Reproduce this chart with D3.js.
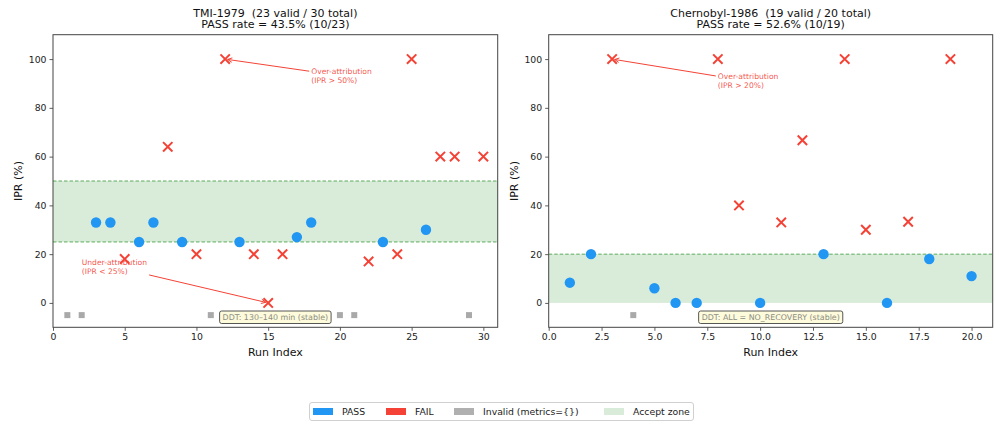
<!DOCTYPE html>
<html><head><meta charset="utf-8">
<script src="https://cdn.jsdelivr.net/npm/d3@7"></script>
<style>
body{margin:0;background:#fff;}
svg{display:block;font-family:"DejaVu Sans",sans-serif;}
text{white-space:pre;}
</style></head><body>
<svg id="c" width="994" height="424"></svg>
<script>
// ---------- data ----------
const tmiTitle = ["TMI-1979  (23 valid / 30 total)", "PASS rate = 43.5% (10/23)"];
const tmiPass = [[3,33],[4,33],[6,25],[7,33],[9,25],[13,25],[17,27],[18,33],[23,25],[26,30]];
const tmiFail = [[5,18],[8,64],[10,20],[12,100],[14,20],[15,0],[16,20],[22,17],[24,20],[25,100],[27,60],[28,60],[30,60]];
const tmiInvalid = [1,2,11,19,20,21,29];
const tmiZone = [25,50];
const tmiZoneLines = [25,50];
const tmiXTicks = [0,5,10,15,20,25,30];
const tmiDDT = "DDT: 130\u2013140 min (stable)";
const tmiNotes = [
  {text:["Over-attribution","(IPR > 50%)"], tx:18, ty:94, x:12, y:100},
  {text:["Under-attribution","(IPR < 25%)"], tx:2, ty:15.7, x:15, y:0}
];

const chTitle = ["Chernobyl-1986  (19 valid / 20 total)", "PASS rate = 52.6% (10/19)"];
const chPass = [[1,8.3],[2,20],[5,6],[6,0],[7,0],[10,0],[13,20],[16,0],[18,18],[20,11]];
const chFail = [[3,100],[8,100],[9,40],[11,33],[12,66.7],[14,100],[15,30],[17,33.3],[19,100]];
const chInvalid = [4];
const chZone = [0,20];
const chZoneLines = [20];
const chXTicks = [0,2.5,5,7.5,10,12.5,15,17.5,20];
const chDDT = "DDT: ALL = NO_RECOVERY (stable)";
const chNotes = [
  {text:["Over-attribution","(IPR > 20%)"], tx:8, ty:91.8, x:3, y:100}
];

const yTicks = [0,20,40,60,80,100];
const invalidY = -5;
const legendItems = [
  {label:"PASS", color:"#2196F3"},
  {label:"FAIL", color:"#F44336"},
  {label:"Invalid (metrics={})", color:"#b0b0b0"},
  {label:"Accept zone", color:"#d9ecd9"}
];

// ---------- styles ----------
const C = {pass:"#2196F3", fail:"#F44336", inv:"#a9a9a9", zone:"#d9ecd9", zoneLine:"#3a9a3a"};
const svg = d3.select("#c");

function panel(cfg){
  const {left, right, xmax, xTicks, xFmt} = cfg;
  const top = 34.7, bottom = 327.3;
  const x = d3.scaleLinear().domain([0,xmax]).range([left,right]);
  const y = d3.scaleLinear().domain([-10,110]).range([bottom,top]);
  const g = svg.append("g");
  const clipId = "clip"+Math.round(left);
  svg.append("clipPath").attr("id",clipId).append("rect")
    .attr("x",left).attr("y",top).attr("width",right-left).attr("height",bottom-top);
  const pg = g.append("g").attr("clip-path",`url(#${clipId})`);

  // zone
  pg.append("rect").attr("x",left).attr("width",right-left)
    .attr("y",y(cfg.zone[1])).attr("height",y(cfg.zone[0])-y(cfg.zone[1]))
    .attr("fill",C.zone);
  pg.selectAll("line.z").data(cfg.zoneLines).join("line")
    .attr("x1",left).attr("x2",right).attr("y1",d=>y(d)).attr("y2",d=>y(d))
    .attr("stroke",C.zoneLine).attr("stroke-opacity",0.8).attr("stroke-width",1)
    .attr("stroke-dasharray","3.5,2");

  // invalid
  pg.selectAll("rect.inv").data(cfg.invalid).join("rect")
    .attr("x",d=>x(d)-3).attr("y",y(invalidY)-3).attr("width",6).attr("height",6)
    .attr("fill",C.inv);

  // DDT box
  const bx = (left+right)/2, by = 317;
  const bt = g.append("text").attr("x",bx).attr("y",by+2.9).attr("text-anchor","middle")
    .attr("font-size",7.9).attr("fill","#8c8c80").text(cfg.ddt);
  const bb = bt.node().getBBox();
  g.insert("rect", () => bt.node()).attr("x",bb.x-3).attr("y",by-6).attr("width",bb.width+6).attr("height",12.5)
    .attr("rx",2).attr("fill","#fdfbdc").attr("stroke","#444").attr("stroke-width",0.9);

  // pass
  pg.selectAll("circle.p").data(cfg.pass).join("circle")
    .attr("cx",d=>x(d[0])).attr("cy",d=>y(d[1])).attr("r",5.2).attr("fill",C.pass);
  // fail
  const s = 4.7;
  pg.selectAll("path.f").data(cfg.fail).join("path")
    .attr("d",d=>{const cx=x(d[0]),cy=y(d[1]);return `M${cx-s},${cy-s}L${cx+s},${cy+s}M${cx-s},${cy+s}L${cx+s},${cy-s}`;})
    .attr("stroke",C.fail).attr("stroke-width",2).attr("fill","none");

  // annotations
  cfg.notes.forEach(n=>{
    const t = g.append("text").attr("font-size",7.6).attr("fill",C.fail).attr("fill-opacity",0.9);
    n.text.forEach((s,i)=>t.append("tspan").attr("x",x(n.tx)).attr("y",y(n.ty)+i*9.3).text(s));
    const b = t.node().getBBox();
    const cx = b.x+b.width/2, cy = b.y+b.height/2;
    const tx = x(n.x), ty = y(n.y);
    const dx = tx-cx, dy = ty-cy;
    const hw = b.width/2+2, hh = b.height/2+2;
    const k = Math.min(hw/Math.abs(dx||1e-9), hh/Math.abs(dy||1e-9));
    const sx = cx+dx*k, sy = cy+dy*k;
    const L = Math.hypot(tx-sx, ty-sy), ux=(tx-sx)/L, uy=(ty-sy)/L;
    const ex = tx-ux*2.5, ey = ty-uy*2.5;
    g.append("line").attr("x1",sx).attr("y1",sy).attr("x2",ex).attr("y2",ey)
      .attr("stroke",C.fail).attr("stroke-width",1);
    const hl=4.5, hwid=2.2;
    g.append("path").attr("d",`M${ex-ux*hl-uy*hwid},${ey-uy*hl+ux*hwid}L${ex},${ey}L${ex-ux*hl+uy*hwid},${ey-uy*hl-ux*hwid}`)
      .attr("stroke",C.fail).attr("stroke-width",1).attr("fill","none");
  });

  // axes
  const xa = g.append("g").attr("transform",`translate(0,${bottom})`)
    .call(d3.axisBottom(x).tickValues(xTicks).tickFormat(xFmt).tickSize(3.5).tickPadding(3));
  const ya = g.append("g").attr("transform",`translate(${left},0)`)
    .call(d3.axisLeft(y).tickValues(yTicks).tickFormat(d3.format("d")).tickSize(3.5).tickPadding(3));
  [xa,ya].forEach(a=>{
    a.select(".domain").remove();
    a.selectAll("text").attr("font-size",9.3).attr("fill","#222").attr("font-family","DejaVu Sans");
    a.selectAll("line").attr("stroke","#333").attr("stroke-width",0.8);
  });
  g.append("rect").attr("x",left).attr("y",top).attr("width",right-left).attr("height",bottom-top)
    .attr("fill","none").attr("stroke","#444").attr("stroke-width",1);

  // labels
  g.append("text").attr("x",(left+right)/2).attr("y",356).attr("text-anchor","middle")
    .attr("font-size",11).attr("fill","#111").text("Run Index");
  g.append("text").attr("transform",`translate(${left-31},${(top+bottom)/2}) rotate(-90)`)
    .attr("text-anchor","middle").attr("font-size",11).attr("fill","#111").text("IPR (%)");
  cfg.title.forEach((s,i)=>g.append("text").attr("x",(left+right)/2).attr("y",16.5+i*11.8)
    .attr("text-anchor","middle").attr("font-size",11).attr("fill","#111").text(s));
}

panel({left:53, right:497.7, xmax:31, xTicks:tmiXTicks, xFmt:d3.format("d"),
  pass:tmiPass, fail:tmiFail, invalid:tmiInvalid, zone:tmiZone, zoneLines:tmiZoneLines,
  ddt:tmiDDT, notes:tmiNotes, title:tmiTitle});
panel({left:548.7, right:992.7, xmax:21, xTicks:chXTicks, xFmt:d3.format(".1f"),
  pass:chPass, fail:chFail, invalid:chInvalid, zone:chZone, zoneLines:chZoneLines,
  ddt:chDDT, notes:chNotes, title:chTitle});

// legend
const lg = svg.append("g");
lg.append("rect").attr("x",309.5).attr("y",402.5).attr("width",384).attr("height",18)
  .attr("rx",2.5).attr("fill","#fff").attr("stroke","#d0d0d0").attr("stroke-width",1);
const lx = d3.scaleOrdinal().domain(legendItems.map(d=>d.label)).range([313,386,454,604]);
legendItems.forEach(d=>{
  lg.append("rect").attr("x",lx(d.label)).attr("y",408).attr("width",20).attr("height",7).attr("fill",d.color);
  lg.append("text").attr("x",lx(d.label)+29).attr("y",414.8).attr("font-size",9.3).attr("fill","#222").text(d.label);
});
</script>
</body></html>
